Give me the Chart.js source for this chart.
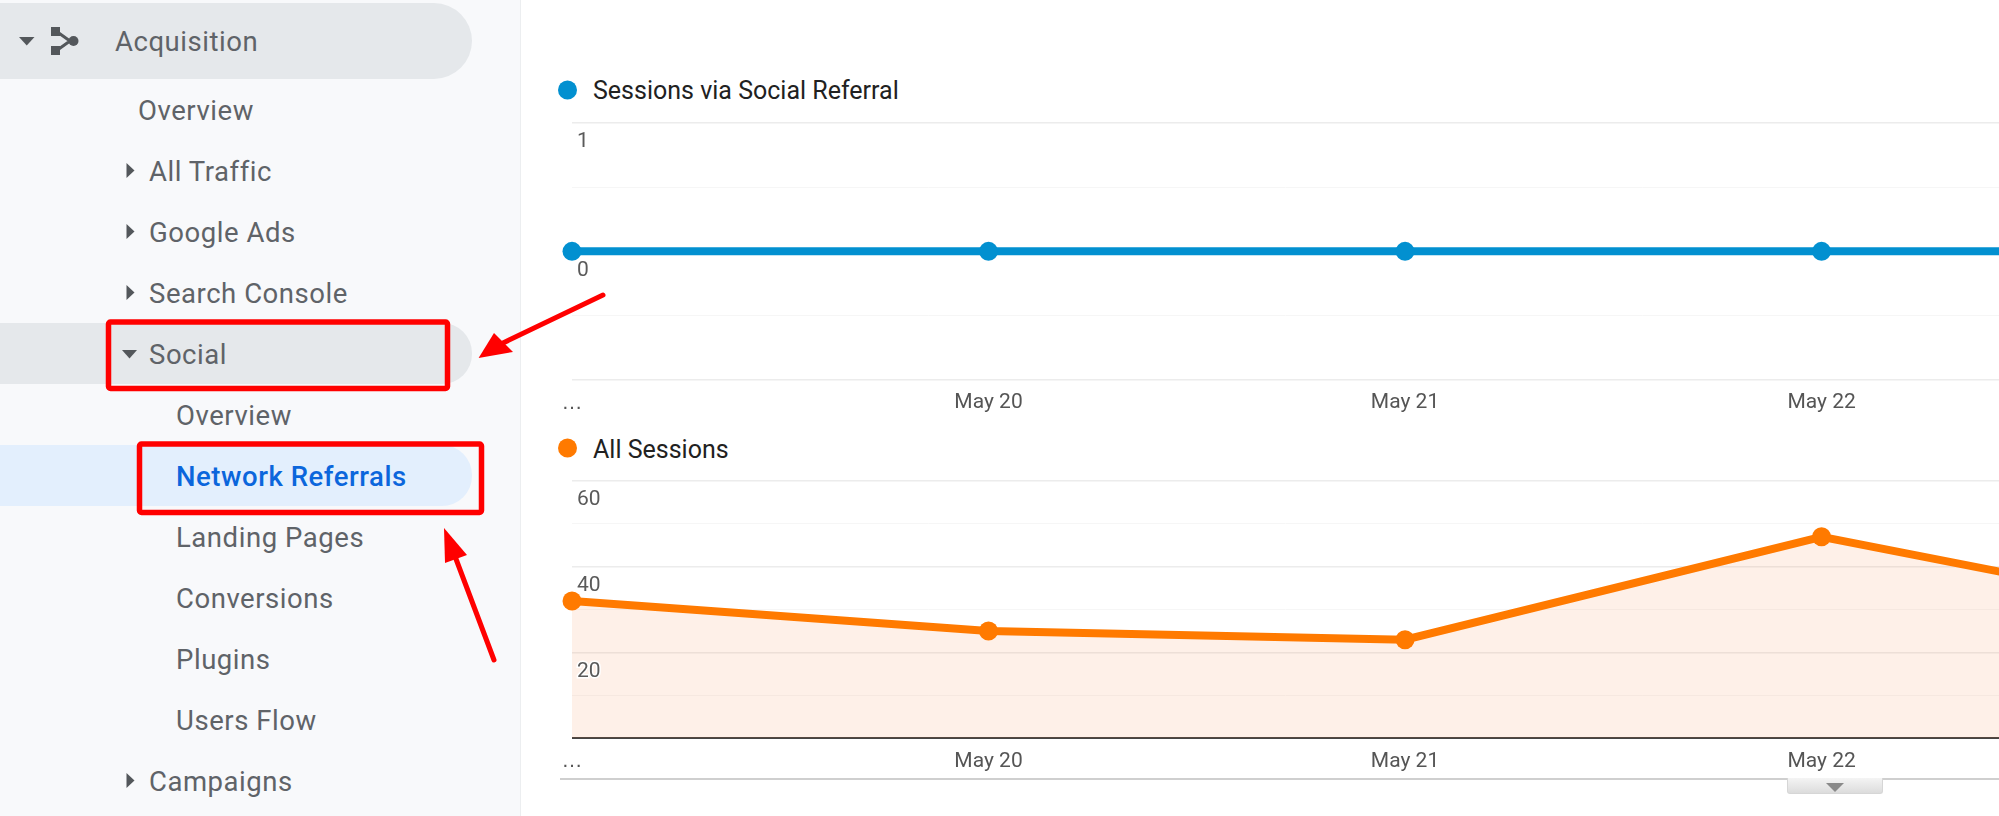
<!DOCTYPE html>
<html><head><meta charset="utf-8">
<script src="https://cdn.jsdelivr.net/npm/chart.js@4"></script>
<style>
html,body{margin:0;padding:0;background:#fff;width:1999px;height:816px;overflow:hidden}
body{position:relative;font-family:Roboto,sans-serif}
#side{position:absolute;left:0;top:0;width:520px;height:816px;background:#f8f9fb;border-right:1.5px solid #eceef0}
.pill{position:absolute;left:0;width:472px;border-radius:0 38px 38px 0;background:#e5e8eb}
.n{position:absolute;font-size:27.500px;letter-spacing:.55px;color:#5f6368;line-height:32px;white-space:nowrap;transform:translateY(-16px)}
.leg{position:absolute;left:593px;font-size:25px;line-height:30px;color:#212121;white-space:nowrap;transform:translateY(-15px)}
.dot{position:absolute;left:558px;width:19px;height:19px;border-radius:50%;transform:translateY(-9.5px)}
canvas{position:absolute;left:540px}
#rule{position:absolute;left:560px;right:0;top:778px;height:1.5px;background:#cfcfcf}
#tab{position:absolute;left:1787px;top:778px;width:94px;height:15px;background:linear-gradient(#f4f4f4,#dcdcdc);border:1px solid #d6d6d6;border-top:none;border-radius:0 0 3px 3px}
svg{position:absolute;left:0;top:0;pointer-events:none}
</style></head><body>
<div id="side">
<div class="pill" style="top:3px;height:76px"></div>
<div class="pill" style="top:323px;height:61px;border-radius:0 30px 30px 0"></div>
<div class="pill" style="top:445px;height:61px;background:#e3effd;border-radius:0 30px 30px 0"></div>
<div class="n" style="left:115px;top:42px">Acquisition</div>
<div class="n" style="left:138px;top:110.500px">Overview</div>
<div class="n" style="left:149px;top:171.500px">All Traffic</div>
<div class="n" style="left:149px;top:232.500px">Google Ads</div>
<div class="n" style="left:149px;top:293.500px">Search Console</div>
<div class="n" style="left:149px;top:354.500px">Social</div>
<div class="n" style="left:176px;top:415.500px">Overview</div>
<div class="n" style="left:176px;top:476.500px;color:#0b66dc;font-weight:500">Network Referrals</div>
<div class="n" style="left:176px;top:537.500px">Landing Pages</div>
<div class="n" style="left:176px;top:598.500px">Conversions</div>
<div class="n" style="left:176px;top:659.500px">Plugins</div>
<div class="n" style="left:176px;top:720.500px">Users Flow</div>
<div class="n" style="left:149px;top:781.500px">Campaigns</div>
</div>
<div class="dot" style="top:89.5px;background:#0290d0"></div>
<div class="leg" style="top:91px">Sessions via Social Referral</div>
<div class="dot" style="top:448px;background:#ff7a00"></div>
<div class="leg" style="top:450px">All Sessions</div>
<canvas id="c1" width="1459" height="310" style="top:110px"></canvas>
<canvas id="c2" width="1459" height="310" style="top:470px"></canvas>
<div id="rule"></div><div id="tab"></div>
<svg width="1999" height="816" viewBox="0 0 1999 816">
<g fill="#53575b">
<path d="M19 37h15.500l-7.750 8.500z"/>
<path d="M122 350h15l-7.500 8.500z"/>
<path d="M126.500 163l8 7.500-8 7.500z"/><path d="M126.500 224l8 7.500-8 7.500z"/><path d="M126.500 285l8 7.500-8 7.500z"/><path d="M126.500 773l8 7.500-8 7.500z"/>
<rect x="51" y="27" width="9" height="9"/><rect x="51" y="46" width="9" height="9"/><circle cx="73.500" cy="41" r="5"/>
<path d="M56 31l14 10-14 10" fill="none" stroke="#53575b" stroke-width="3"/>
<path d="M1826 783h18l-9 9z" fill="#8a8a8a"/>
</g>
<g fill="none" stroke="#ff0000" stroke-width="5.500">
<rect x="108.500" y="322" width="339" height="66.500" rx="2"/>
<rect x="139.500" y="444" width="342" height="68.500" rx="2"/>
</g>
<g stroke="#ff0000" stroke-width="5" stroke-linecap="round" fill="#ff0000">
<path d="M603 295L503 343" />
<path d="M494 660L456 559" />
</g>
<path d="M478.600 358L494 333L513 352z" fill="#ff0000"/>
<path d="M444 528L445 563L467 555z" fill="#ff0000"/>
</svg>
<script>
const xLabels = ["…", "May 20", "May 21", "May 22", "May 23"];
const socialSessions = [0, 0, 0, 0, 0];
const allSessions = [32, 25, 23, 47, 28];
const socialTicks = [1, 0];
const allTicks = [60, 40, 20];
const socialName = "Sessions via Social Referral";
const allName = "All Sessions";
const visibleDays = 3.426;

function noPad(s) { s.paddingLeft = 0; s.paddingRight = 0; s.paddingTop = 0; s.paddingBottom = 0; }

function makeChart(id, opts) {
  const pts = opts.values.map((y, i) => ({x: i, y}));
  return new Chart(document.getElementById(id), {
    type: 'line',
    data: {datasets: [{
      label: opts.name, data: pts,
      borderColor: opts.color, backgroundColor: opts.fill || 'transparent',
      fill: opts.fill ? 'origin' : false,
      borderWidth: 8, tension: 0, pointRadius: 9.5, pointHoverRadius: 9.5,
      pointBackgroundColor: opts.color, pointBorderColor: opts.color, pointBorderWidth: 0,
      clip: {left: 14, top: 14, right: 0, bottom: 14}
    }]},
    options: {
      responsive: false, animation: false, devicePixelRatio: 1,
      layout: {autoPadding: false, padding: {left: 32, top: opts.top, right: 0, bottom: 0}},
      plugins: {legend: {display: false}, tooltip: {enabled: false}},
      scales: {
        x: {
          type: 'linear', min: 0, max: visibleDays,
          afterFit: s => { s.height = opts.axisH; noPad(s); },
          grid: {display: false, drawTicks: false}, border: {display: false},
          ticks: {stepSize: 1, includeBounds: false, autoSkip: false, maxRotation: 0, padding: 10.5,
            color: '#555',
            font: c => c.tick && c.tick.value === 0 ? {family: 'Liberation Sans', size: 21} : {family: 'Roboto', size: 21},
            callback: v => xLabels[v]}
        },
        y: {
          min: opts.min, max: opts.max,
          afterFit: s => { s.width = 0; noPad(s); },
          border: {display: false},
          grid: {drawTicks: false,
            color: c => c.tick.value === opts.base ? opts.baseColor : (opts.ticks.includes(c.tick.value) ? '#ececec' : '#f6f6f6'),
            lineWidth: c => c.tick.value === opts.base ? opts.baseWidth : (opts.ticks.includes(c.tick.value) ? 1.5 : 1)},
          ticks: {mirror: true, padding: 5, stepSize: opts.step, includeBounds: false, autoSkip: false,
            color: '#5a5a5a', textStrokeColor: '#fff', textStrokeWidth: 3, z: 1,
            font: {family: 'Roboto', size: 21, lineHeight: 1.81},
            callback: v => opts.ticks.includes(v) ? ['', String(v)] : ''}
        }
      }
    }
  });
}
makeChart('c1', {name: socialName, values: socialSessions, color: '#0290d0', min: -1, max: 1, step: 0.5,
  ticks: socialTicks, base: -1, baseColor: '#ececec', baseWidth: 1.5, top: 12.7, axisH: 40});
makeChart('c2', {name: allName, values: allSessions, color: '#ff7a00', fill: 'rgba(250,105,30,0.1)', min: 0, max: 60, step: 10,
  ticks: allTicks, base: 0, baseColor: '#444', baseWidth: 2, top: 11, axisH: 41.7});
</script>
</body></html>
